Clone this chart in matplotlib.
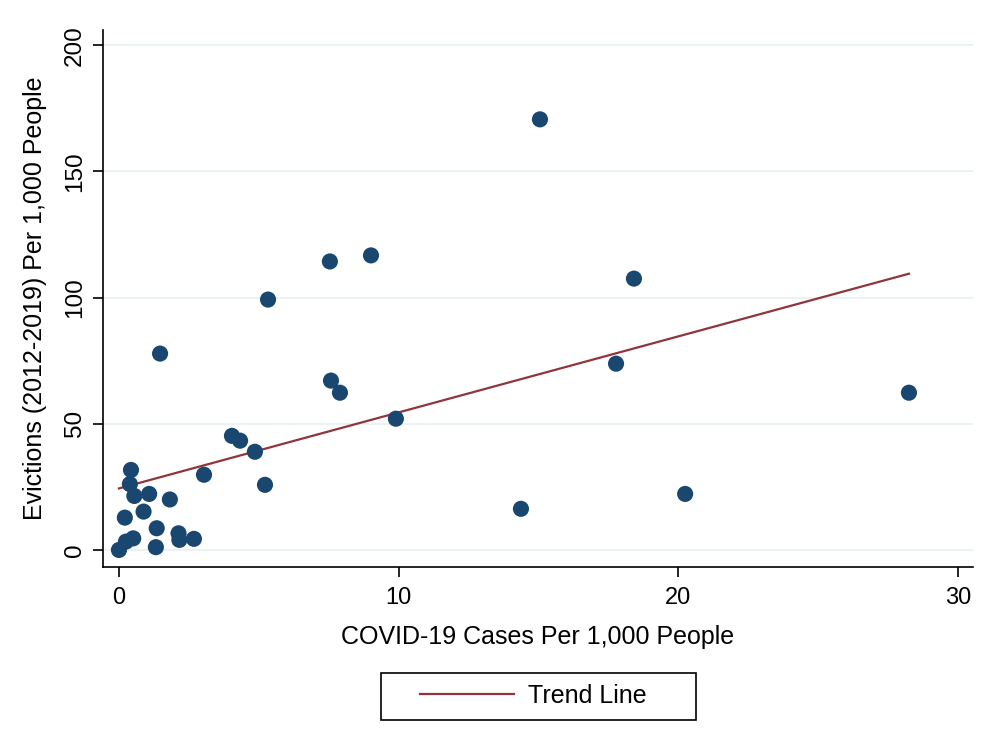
import numpy as np
import matplotlib
matplotlib.use("Agg")
import matplotlib.pyplot as plt
from matplotlib.patches import Rectangle
from matplotlib import font_manager

plt.rcParams['font.family'] = ['Liberation Sans', 'DejaVu Sans']
names = {f.name for f in font_manager.fontManager.ttflist}
narrow = 'Liberation Sans Narrow' if 'Liberation Sans Narrow' in names else 'Liberation Sans'

# Data
covid_cases = [15.05, 9.01, 7.54, 18.41, 5.33, 1.47, 7.58, 17.77, 7.90, 28.24,
               9.90, 4.04, 4.33, 4.86, 3.04, 5.22, 20.24, 14.37, 0.43, 0.39,
               0.55, 1.08, 1.82, 0.21, 0.88, 1.35, 2.13, 2.16, 2.68, 1.32,
               0.51, 0.25, 0.00]
evictions = [170.6, 116.7, 114.3, 107.5, 99.2, 77.8, 67.1, 73.8, 62.3, 62.3,
             52.0, 45.2, 43.3, 38.9, 29.8, 25.8, 22.2, 16.3, 31.7, 26.1,
             21.4, 22.2, 20.0, 12.8, 15.2, 8.6, 6.6, 4.0, 4.4, 1.1,
             4.6, 3.3, 0.0]

x_ticks = [0, 10, 20, 30]
y_ticks = [0, 50, 100, 150, 200]

navy = '#1a476f'
maroon = '#90353b'
grid_col = '#eaf2f3'

W, H = 987, 729
fig = plt.figure(figsize=(W/100, H/100), dpi=100)
ax = fig.add_axes([103/W, 1-567/H, (973-103)/W, (567-30)/H])

# Trend line (linear fit)
slope, intercept = np.polyfit(covid_cases, evictions, 1)
xs = np.array([min(covid_cases), max(covid_cases)])
ax.plot(xs, intercept + slope*xs, color=maroon, lw=1.6, label='Trend Line', zorder=2)
ax.scatter(covid_cases, evictions, s=135, color=navy, edgecolors='none', zorder=3)

ax.set_xlim(-0.57, 30.53)
ax.set_ylim(-6.75, 206)
ax.set_xticks(x_ticks)
ax.set_yticks(y_ticks)
ax.yaxis.grid(True, color=grid_col, lw=1.5)
ax.set_axisbelow(True)
for s in ['top', 'right']:
    ax.spines[s].set_visible(False)
ax.spines['left'].set_linewidth(1.2)
ax.spines['bottom'].set_linewidth(1.2)
ax.tick_params(axis='both', length=7.2, width=1.2)
ax.tick_params(axis='x', labelsize=17, pad=7)
ax.tick_params(axis='y', labelsize=17.5, pad=5)
plt.setp(ax.get_yticklabels(), rotation=90, va='center', family=[narrow, 'DejaVu Sans'])

ax.set_xlabel('COVID-19 Cases Per 1,000 People', fontsize=18, labelpad=12)
ax.set_ylabel('Evictions (2012-2019) Per 1,000 People', fontsize=18, labelpad=12)

# legend, Stata-style box below the plot
leg = fig.legend(loc='center left', bbox_to_anchor=(420/W, 1-696/H), fontsize=18,
                 frameon=False, handlelength=3.75, handletextpad=0.55,
                 borderpad=0, borderaxespad=0)
fig.add_artist(Rectangle((381/W, 1-720/H), (696-381)/W, (720-673)/H,
                         transform=fig.transFigure, fill=False,
                         edgecolor='black', lw=1.2))

fig.savefig('out.png', dpi=100)
